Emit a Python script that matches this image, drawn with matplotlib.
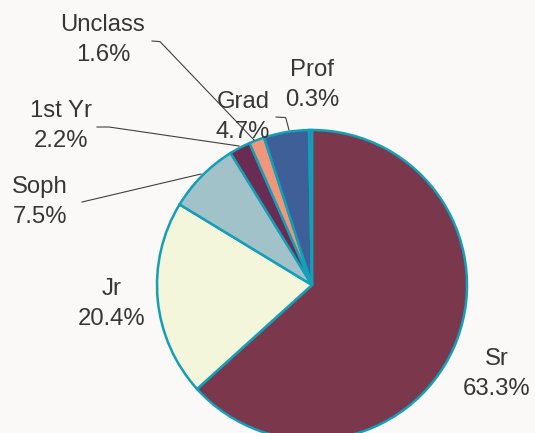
import matplotlib
matplotlib.use("Agg")
import matplotlib.pyplot as plt

# ---- data ----
categories = ["Sr", "Jr", "Soph", "1st Yr", "Unclass", "Grad", "Prof"]
shares = [63.3, 20.4, 7.5, 2.2, 1.6, 4.7, 0.3]
colors = ["#7b384d", "#f3f6da", "#a2c2ca", "#6a2c52", "#f0967b", "#3f5f99", "#3f5f99"]

# ---- layout (pixel coords, y down) ----
W, H = 535, 433
center_px = (312, 285)
radius_px = 155
label_pos = {
    "Sr": (497, 374), "Jr": (112, 304), "Soph": (40, 202), "1st Yr": (61, 126),
    "Unclass": (103, 40), "Grad": (243, 117), "Prof": (312, 85),
}
leaders = {
    "Unclass": [(152, 41), (160, 41.6), (254, 140)],
    "1st Yr": [(97, 127), (109, 127), (239, 146)],
    "Soph": [(82, 202), (201, 174)],
    "Prof": [(276, 117), (285.7, 117.6), (289, 130)],
}
edge = "#139fb8"
txt = "#363636"

plt.rcParams['font.family'] = ['Liberation Sans', 'DejaVu Sans']

fig = plt.figure(figsize=(W / 100, H / 100), dpi=100)
fig.patch.set_facecolor("#faf9f7")
ax = fig.add_axes([0, 0, 1, 1])


def px(x, y):
    return x, H - y


ax.pie(shares, colors=colors, startangle=90, counterclock=False,
       center=px(*center_px), radius=radius_px,
       wedgeprops=dict(edgecolor=edge, linewidth=1.8))

# pie() resets the limits, so set them afterwards
ax.set_xlim(0, W)
ax.set_ylim(0, H)
ax.set_aspect("equal")
ax.axis("off")

for pts in leaders.values():
    xs = [p[0] for p in pts]
    ys = [H - p[1] for p in pts]
    ax.plot(xs, ys, color="#404040", linewidth=0.8, zorder=3)

for cat, val in zip(categories, shares):
    x, y = px(*label_pos[cat])
    ax.text(x, y, f"{cat}\n{val:.1f}%", ha="center", va="center",
            fontsize=17.2, color=txt, linespacing=1.42, zorder=4)

fig.savefig("out.png", dpi=100, facecolor=fig.get_facecolor())
